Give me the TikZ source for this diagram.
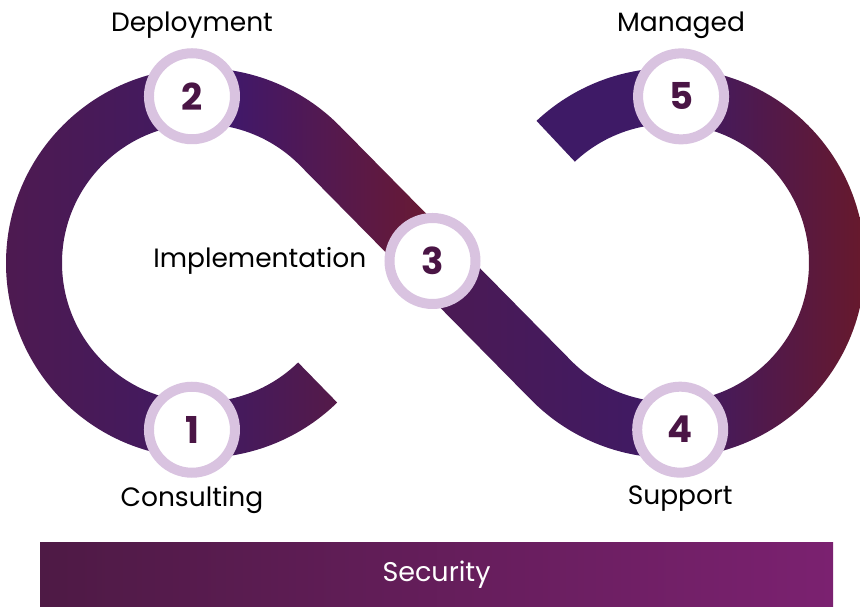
\documentclass[tikz,border=0pt]{standalone}
\usepackage{fontspec}
\setmainfont{Poppins}
\usetikzlibrary{positioning,calc}

\definecolor{bandblue}{HTML}{3E1A66}
\definecolor{bandplum}{HTML}{4E1A50}
\definecolor{bandred}{HTML}{6E1A2C}
\definecolor{ringlilac}{HTML}{D9C3E0}
\definecolor{numplum}{HTML}{4A1545}
\definecolor{barleft}{HTML}{4E1A45}
\definecolor{barright}{HTML}{7B2170}

\tikzset{
  stepnum/.style={circle, draw=ringlilac, line width=10pt, fill=white,
    minimum size=86pt, inner sep=0pt, text=numplum,
    font=\bfseries\fontsize{37}{37}\selectfont},
  steplabel/.style={inner sep=0pt, font=\fontsize{26.5}{26.5}\selectfont},
  secbar/.style={shade, left color=barleft, right color=barright,
    minimum width=793pt, minimum height=64pt, inner sep=0pt, text=white,
    font=\fontsize{27}{27}\selectfont},
}

\begin{document}
\begin{tikzpicture}[x=1pt, y=1pt]
  \useasboundingbox (0,0) rectangle (860,607);

  % Loop centres
  \coordinate (L) at (201,344);
  \coordinate (R) at (670,344);
  \coordinate (M) at ($(L)!0.5!(R)$);

  % Band
  \shade[left color=bandblue, right color=bandplum!80!bandred]
    ($(L)+(-45.7:195)$) arc[start angle=-45.7, end angle=-93.1, radius=195]
    -- ($(L)+(-93.1:139)$) arc[start angle=-93.1, end angle=-45.7, radius=139] -- cycle;
  \shade[left color=bandplum, right color=bandblue!80!bandplum]
    ($(L)+(266.9:195)$) arc[start angle=266.9, end angle=93.1, radius=195]
    -- ($(L)+(93.1:139)$) arc[start angle=93.1, end angle=266.9, radius=139] -- cycle;
  \shade[left color=bandblue!90!blue, right color=bandred]
    ($(L)+(93.1:195)$) arc[start angle=93.1, end angle=44.6, radius=195]
    -- ($(M)+(44.6:28)$) -- ($(M)+(224.6:28)$)
    -- ($(L)+(44.6:139)$) arc[start angle=44.6, end angle=93.1, radius=139] -- cycle;
  \shade[left color=bandplum!90!bandblue, right color=bandblue]
    ($(M)+(44.6:28)$) -- ($(R)+(224.6:139)$)
    arc[start angle=224.6, end angle=273.5, radius=139]
    -- ($(R)+(273.5:195)$) arc[start angle=273.5, end angle=224.6, radius=195]
    -- ($(M)+(224.6:28)$) -- cycle;
  \shade[left color=bandblue, right color=bandred!95!black]
    ($(R)+(273.5:195)$) arc[start angle=273.5, end angle=446.2, radius=195]
    -- ($(R)+(446.2:139)$) arc[start angle=446.2, end angle=273.5, radius=139] -- cycle;
  \fill[bandblue]
    ($(R)+(86.2:195)$) arc[start angle=86.2, end angle=133.2, radius=195]
    -- ($(R)+(133.2:139)$) arc[start angle=133.2, end angle=86.2, radius=139] -- cycle;

  % Nodes
  \node[stepnum] (n1) at ($(L)+(266.9:167)$) {1};
  \node[stepnum] (n2) at ($(L)+(93.1:167)$) {2};
  \node[stepnum] (n3) at ($(M)+(-3,2)$) {3};
  \node[stepnum] (n4) at ($(R)+(273.5:167)$) {4};
  \node[stepnum] (n5) at ($(R)+(86.2:167)$) {5};

  % Labels
  \node[steplabel, above=10pt of n2] (deploy) {Deployment};
  \node[steplabel, above=10pt of n5] (managed) {Managed};
  \node[steplabel, left=18pt of n3] (impl) {Implementation};
  \node[steplabel, below=8pt of n1] (consult) {Consulting};
  \node[steplabel, below=8pt of n4] (support) {Support};

  \node[secbar] (security) at (436.5,32) {Security};
\end{tikzpicture}
\end{document}
